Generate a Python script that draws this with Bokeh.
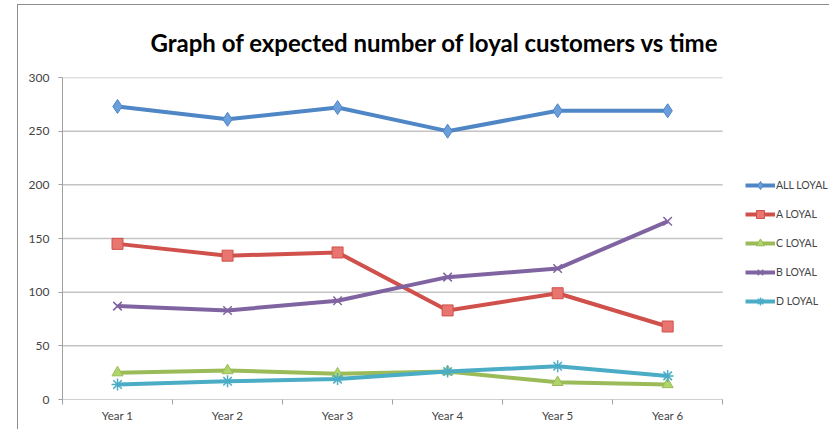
from bokeh.plotting import figure
from bokeh.models import Range1d, FixedTicker, Legend, LegendItem, Title
from bokeh.embed import file_html
from bokeh.resources import INLINE

years = ["Year 1", "Year 2", "Year 3", "Year 4", "Year 5", "Year 6"]
x_pos = [1, 2, 3, 4, 5, 6]
all_loyal = [273, 261, 272, 250, 269, 269]
a_loyal = [145, 134, 137, 83, 99, 68]
c_loyal = [25, 27, 24, 26, 16, 14]
b_loyal = [87, 83, 92, 114, 122, 166]
d_loyal = [14, 17, 19, 26, 31, 22]
y_ticks = [0, 50, 100, 150, 200, 250, 300]

FONT = "Lato"
x_lo, x_hi = 0.5, 6.5

p = figure(width=812, height=425, output_backend="svg", toolbar_location=None,
           x_range=Range1d(x_lo, 7.48), y_range=Range1d(0, 300),
           min_border_left=44, min_border_right=0, min_border_top=65, min_border_bottom=31)
p.styles = {"margin-left": "17px", "margin-top": "4px",
            "border-left": "1px solid #8c8c8c", "border-top": "1px solid #8c8c8c"}
p.outline_line_color = None
p.background_fill_color = "white"
p.border_fill_color = "white"

p.title.visible = False
t = Title(text="Graph of expected number of loyal customers vs time", align="left",
          offset=88, standoff=41, text_font=FONT, text_font_size="24px", text_font_style="bold",
          text_color="#000000")
p.add_layout(t, "above")

# horizontal grid lines limited to the category area
p.segment(x0=[x_lo] * len(y_ticks[1:]), y0=y_ticks[1:], x1=[x_hi] * len(y_ticks[1:]),
          y1=y_ticks[1:], line_color="#c4c4c4", line_width=1.5)
# x baseline
p.segment(x0=[x_lo], y0=[0], x1=[x_hi], y1=[0], line_color="#a0a0a0", line_width=1)

# axes
p.xaxis.ticker = FixedTicker(ticks=x_pos, minor_ticks=[0.5, 1.5, 2.5, 3.5, 4.5, 5.5, 6.5])
p.xaxis.major_label_overrides = {i: y for i, y in zip(x_pos, years)}
p.xaxis.major_tick_line_color = None
p.xaxis.major_tick_out = 0
p.xaxis.major_tick_in = 0
p.xaxis.minor_tick_out = 5
p.xaxis.minor_tick_in = 0
p.xaxis.minor_tick_line_color = "#a0a0a0"
p.xaxis.axis_line_color = None
p.xaxis.major_label_text_font = FONT
p.xaxis.major_label_text_font_size = "11.5px"
p.xaxis.major_label_standoff = 4
p.xgrid.visible = False
p.ygrid.visible = False

p.yaxis.ticker = FixedTicker(ticks=y_ticks)
p.yaxis.minor_tick_line_color = None
p.yaxis.major_tick_out = 4
p.yaxis.major_tick_in = 0
p.yaxis.major_tick_line_color = "#a0a0a0"
p.yaxis.axis_line_color = "#a0a0a0"
p.yaxis.major_label_text_font = FONT
p.yaxis.major_label_text_font_size = "12px"
p.yaxis.major_label_standoff = 9

series = [
    ("ALL LOYAL", all_loyal, "#4F86C6", "diamond", 14),
    ("A LOYAL", a_loyal, "#D0504B", "square", 11),
    ("C LOYAL", c_loyal, "#9BBB59", "triangle", 11),
    ("B LOYAL", b_loyal, "#8064A2", "x", 12),
    ("D LOYAL", d_loyal, "#4BACC6", "asterisk", 12),
]
fills = {"ALL LOYAL": "#6A9FDB", "A LOYAL": "#E8756F", "C LOYAL": "#AFD46A",
         "B LOYAL": "#8064A2", "D LOYAL": "#4BACC6"}

items = []
for name, vals, col, mk, sz in series:
    r1 = p.line(x_pos, vals, line_color=col, line_width=4)
    r2 = p.scatter(x_pos, vals, marker=mk, size=sz, fill_color=fills[name],
                   line_color=col, line_width=1.5 if mk in ("x", "asterisk") else 1)
    items.append(LegendItem(label=name, renderers=[r1, r2]))

legend = Legend(items=items, location=(683, 88), glyph_width=30, glyph_height=20,
                spacing=9, padding=0, margin=0, label_standoff=1,
                label_text_font=FONT, label_text_font_size="10.5px",
                border_line_color=None, background_fill_alpha=0)
p.add_layout(legend, "center")

open("out.html", "w").write(file_html(p, INLINE))
